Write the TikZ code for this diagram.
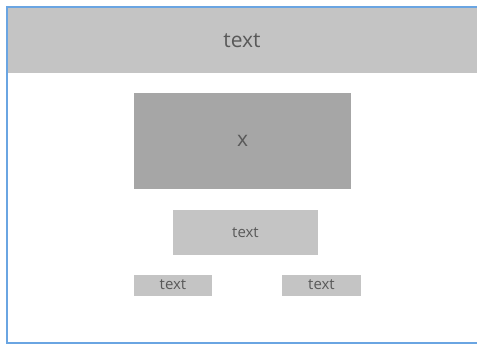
\documentclass[tikz,border=0pt]{standalone}
\usepackage{fontspec}
\setmainfont{Open Sans}
\definecolor{frameblue}{HTML}{6AA5E2}
\definecolor{lightbox}{HTML}{C4C4C4}
\definecolor{darkbox}{HTML}{A6A6A6}
\definecolor{txt}{HTML}{595959}
\begin{document}
\begin{tikzpicture}[x=1pt,y=-1pt,
  box/.style={fill=lightbox,draw=none,inner sep=0pt,text=txt,font=\fontsize{15}{17}\selectfont},
  dbox/.style={fill=darkbox,draw=none,inner sep=0pt,text=txt,font=\fontsize{21}{23}\selectfont},
  hbox/.style={fill=lightbox,draw=none,inner sep=0pt,text=txt,font=\fontsize{21}{23}\selectfont}]
\useasboundingbox (0,0) rectangle (477,346);
\fill[white] (0,0) rectangle (477,346);
\node[hbox,minimum width=470pt,minimum height=65pt] (header) at (242,40.5) {text};
\node[dbox,minimum width=217pt,minimum height=96pt] (x) at (242.5,141) {x};
\node[box,minimum width=145pt,minimum height=45pt] (mid) at (245.5,232.5) {text};
\node[box,minimum width=78pt,minimum height=21pt] (l) at (173,285) {text};
\node[box,minimum width=79pt,minimum height=21pt] (r) at (321.5,285) {text};
\draw[frameblue,line width=2pt] (477,7) -- (7,7) -- (7,343) -- (477,343);
\end{tikzpicture}
\end{document}
